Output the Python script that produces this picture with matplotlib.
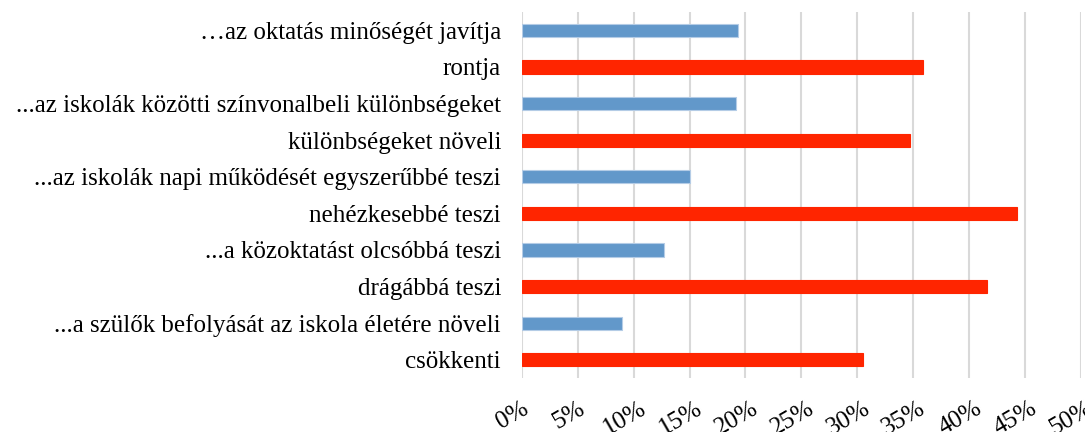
import matplotlib.pyplot as plt
import matplotlib.transforms as mtransforms
from matplotlib.ticker import PercentFormatter

plt.rcParams['font.family'] = ['Liberation Serif', 'DejaVu Serif']

# categories top to bottom
labels = [
    "\u2026az oktatás minőségét javítja",
    "rontja",
    "...az iskolák közötti színvonalbeli különbségeket",
    "különbségeket növeli",
    "...az iskolák napi működését egyszerűbbé teszi",
    "nehézkesebbé teszi",
    "...a közoktatást olcsóbbá teszi",
    "drágábbá teszi",
    "...a szülők befolyását az iskola életére növeli",
    "csökkenti",
]
values = [19.3, 35.9, 19.2, 34.7, 15.0, 44.3, 12.7, 41.6, 9.0, 30.5]
colors = ["#6298CA", "#FF2500"] * 5

fig = plt.figure(figsize=(10.85, 4.32), dpi=100)
ax = fig.add_axes([0.481, 0.125, 0.515, 0.847])

ypos = list(range(len(labels)))[::-1]
for y, v, c in zip(ypos, values, colors):
    ec = "#B4CCE6" if c != "#FF2500" else c
    ax.barh(y, v, height=0.36, color=c, edgecolor=ec, linewidth=0.8, zorder=3)

ax.set_xlim(0, 50)
ax.set_ylim(-0.5, len(labels) - 0.5)
ax.set_xticks(range(0, 51, 5))
ax.xaxis.set_major_formatter(PercentFormatter(decimals=0))
ax.set_yticks(ypos)
ax.set_yticklabels(labels, fontsize=18)
ax.grid(axis='x', color='#D9D9D9', linewidth=1.5, zorder=0)
for s in ax.spines.values():
    s.set_visible(False)
ax.tick_params(axis='y', length=0, pad=15)
ax.tick_params(axis='x', length=0, pad=15, labelsize=18)
shift = mtransforms.ScaledTranslation(-9 / 100, 1 / 100, fig.dpi_scale_trans)
for t in ax.get_xticklabels():
    t.set_rotation(30)
    t.set_ha('center')
    t.set_transform(t.get_transform() + shift)

fig.savefig("out.png", dpi=100)
